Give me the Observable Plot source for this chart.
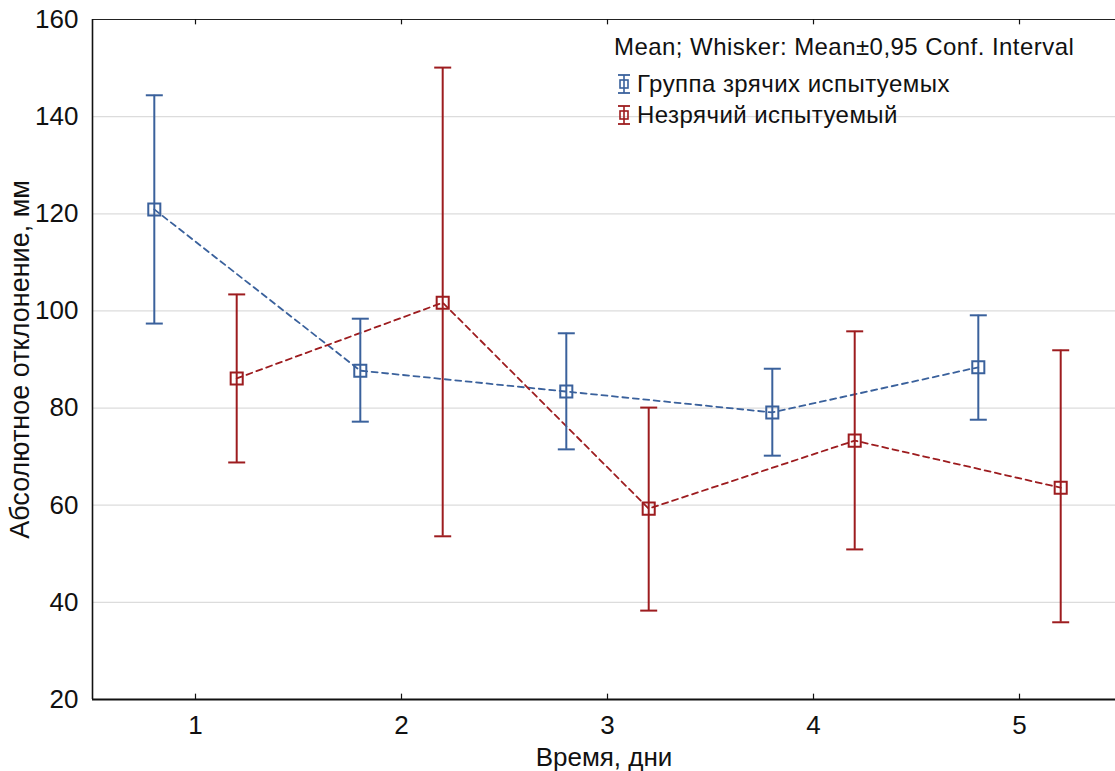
<!DOCTYPE html>
<html>
<head>
<meta charset="utf-8">
<script src="https://cdn.jsdelivr.net/npm/d3@7"></script>
<script src="https://cdn.jsdelivr.net/npm/@observablehq/plot@0.6"></script>
<style>
  html, body { margin: 0; padding: 0; background: #fff; }
  #wrap { position: relative; width: 1115px; height: 771px; overflow: hidden; font-family: "Liberation Sans", Arial, sans-serif; }
  #legend { position: absolute; left: 614px; top: 31px; font-size: 24px; color: #111; line-height: 32px; letter-spacing: 0.45px; }
  #legend .row { display: flex; align-items: center; height: 31px; }
  #legend svg { margin-left: 3px; margin-right: 6px; }
</style>
</head>
<body>
<div id="wrap"><div id="chart"></div><div id="legend"></div></div>
<script>
const days = [1, 2, 3, 4, 5];
const seriesNames = ["Группа зрячих испытуемых", "Незрячий испытуемый"];
const seriesColors = ["#3a619c", "#9d1c1f"];
const seriesOffsets = [-0.2, 0.2];
const sightedMean = [120.9, 87.7, 83.4, 79.1, 88.4];
const sightedLow  = [97.4, 77.2, 71.5, 70.2, 77.6];
const sightedHigh = [144.4, 98.4, 95.4, 88.1, 99.1];
const blindMean = [86.1, 101.7, 59.3, 73.3, 63.6];
const blindLow  = [68.8, 53.6, 38.3, 50.9, 35.9];
const blindHigh = [103.4, 150.1, 80.1, 95.8, 91.9];
const yTicks = [20, 40, 60, 80, 100, 120, 140, 160];
const xTicks = [1, 2, 3, 4, 5];
const legendTitle = "Mean; Whisker: Mean±0,95 Conf. Interval";
const xLabel = "Время, дни";
const yLabel = "Абсолютное отклонение, мм";

const means = [sightedMean, blindMean], lows = [sightedLow, blindLow], highs = [sightedHigh, blindHigh];
const rows = [];
seriesNames.forEach((s, si) => days.forEach((d, i) => rows.push({
  series: s, x: d + seriesOffsets[si], mean: means[si][i], low: lows[si][i], high: highs[si][i]
})));

const capSymbol = { draw(ctx, size) { const w = 8.5; ctx.moveTo(-w, 0); ctx.lineTo(w, 0); } };
const color = { domain: seriesNames, range: seriesColors };
const narrow = "Liberation Sans Narrow, Liberation Sans, Arial, sans-serif";

const chart = Plot.plot({
  width: 1115, height: 771,
  marginLeft: 92, marginTop: 19, marginBottom: 72, marginRight: 0,
  style: { fontFamily: "Liberation Sans, Arial, sans-serif", fontSize: "25px", color: "#111", background: "#fff" },
  x: { domain: [0.5, 5.466], ticks: xTicks },
  y: { domain: [20, 160], ticks: yTicks },
  color,
  marks: [
    Plot.gridY(yTicks.slice(1, -1), { stroke: "#dcdcdc", strokeOpacity: 1, strokeWidth: 1.2 }),
    Plot.ruleY([160], { stroke: "#222", strokeWidth: 1.2 }),
    Plot.ruleX([0.5], { stroke: "#111", strokeWidth: 1.6 }),
    Plot.ruleY([20], { stroke: "#111", strokeWidth: 2.2 }),
    Plot.ruleX(xTicks, { y1: 20, y2: 21.1, stroke: "#111", strokeWidth: 1.2 }),
    Plot.ruleX(xTicks, { y1: 160, y2: 158.9, stroke: "#111", strokeWidth: 1.2 }),
    Plot.axisY(yTicks, { tickSize: 0, tickPadding: 14, fontSize: 26, label: null }),
    Plot.axisX(xTicks, { tickSize: 0, tickPadding: 16, fontSize: 26, label: null, tickFormat: d => String(d), fontFamily: narrow }),
    Plot.text([yLabel], { frameAnchor: "left", dx: -72, rotate: -90, textAnchor: "middle", fontSize: 27, fill: "#111", fontFamily: narrow }),
    Plot.text([xLabel], { frameAnchor: "bottom", dy: 58, lineAnchor: "middle", fontSize: 26, fill: "#111", fontFamily: narrow }),
    Plot.line(rows, { x: "x", y: "mean", z: "series", stroke: "series", strokeWidth: 1.8, strokeDasharray: "6,4.5" }),
    Plot.ruleX(rows, { x: "x", y1: "low", y2: "high", stroke: "series", strokeWidth: 2 }),
    Plot.dot(rows, { x: "x", y: "low", symbol: capSymbol, stroke: "series", strokeWidth: 2, r: 5 }),
    Plot.dot(rows, { x: "x", y: "high", symbol: capSymbol, stroke: "series", strokeWidth: 2, r: 5 }),
    Plot.dot(rows, { x: "x", y: "mean", symbol: "square", stroke: "series", fill: "none", strokeWidth: 2, r: 6.8 })
  ]
});
document.getElementById("chart").appendChild(chart);

const legend = document.getElementById("legend");
const t = document.createElement("div");
t.textContent = legendTitle;
t.style.marginBottom = "5px";
legend.appendChild(t);
seriesNames.forEach((s, i) => {
  const row = document.createElement("div");
  row.className = "row";
  const c = seriesColors[i];
  row.innerHTML = `<svg width="14" height="22" viewBox="0 0 14 22"><line x1="1" x2="13" y1="2" y2="2" stroke="${c}" stroke-width="1.8"/><line x1="1" x2="13" y1="20" y2="20" stroke="${c}" stroke-width="1.8"/><line x1="7" x2="7" y1="2" y2="20" stroke="${c}" stroke-width="1.6"/><rect x="3" y="7" width="8" height="8" fill="none" stroke="${c}" stroke-width="1.6"/></svg>`;
  const sp = document.createElement("span");
  sp.textContent = s;
  row.appendChild(sp);
  legend.appendChild(row);
});
</script>
</body>
</html>
